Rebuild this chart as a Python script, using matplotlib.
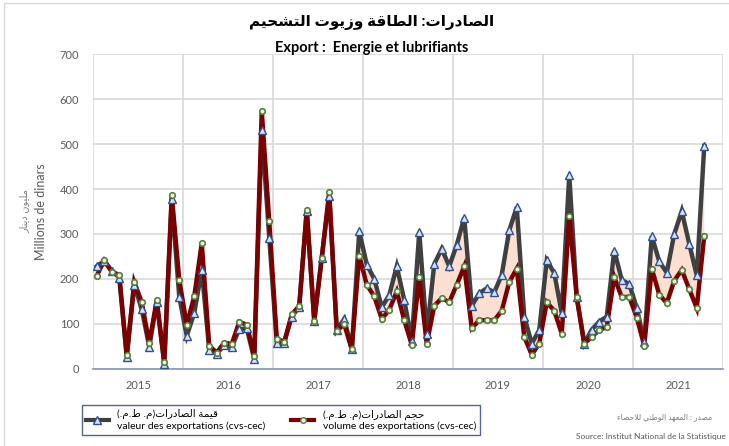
import numpy as np
import matplotlib
matplotlib.use("Agg")
import matplotlib.pyplot as plt
from matplotlib.lines import Line2D
from matplotlib.patches import Rectangle

# monthly data Jan 2015 - Oct 2021
valeur = [228, 240, 218, 203, 26, 187, 132, 49, 148, 11, 377, 160,
          73, 124, 220, 42, 33, 53, 48, 88, 90, 21, 532, 292,
          58, 58, 116, 138, 351, 107, 247, 385, 86, 111, 43, 306,
          232, 200, 137, 164, 228, 153, 62, 305, 78, 233, 267, 228,
          276, 336, 140, 168, 179, 170, 209, 308, 360, 116, 56, 86,
          241, 213, 124, 431, 159, 56, 87, 105, 116, 263, 198, 188,
          136, 59, 295, 239, 214, 300, 351, 278, 208, 496]
volume = [207, 241, 216, 209, 30, 193, 148, 57, 153, 15, 387, 198,
          98, 161, 280, 51, 36, 58, 55, 104, 98, 28, 574, 328,
          67, 60, 121, 140, 353, 107, 247, 394, 84, 99, 43, 252,
          187, 161, 111, 131, 172, 108, 53, 204, 55, 140, 157, 148,
          187, 228, 90, 108, 108, 108, 129, 193, 223, 71, 31, 56,
          148, 129, 78, 339, 159, 56, 71, 86, 93, 204, 159, 160,
          114, 51, 223, 165, 146, 196, 220, 177, 135, 296]
years = ["2015", "2016", "2017", "2018", "2019", "2020", "2021"]

# minimal arabic shaping (presentation forms + visual order)
AR_FORMS = {
    'ء': (0xFE80, 0), 'ا': (0xFE8D, 1), 'ة': (0xFE93, 1), 'ت': (0xFE95, 2),
    'ج': (0xFE9D, 2), 'ح': (0xFEA1, 2), 'د': (0xFEA9, 1), 'ر': (0xFEAD, 1),
    'ز': (0xFEAF, 1), 'ش': (0xFEB5, 2), 'ص': (0xFEB9, 2), 'ط': (0xFEC1, 2),
    'ع': (0xFEC9, 2), 'ق': (0xFED5, 2), 'ل': (0xFEDD, 2), 'م': (0xFEE1, 2),
    'ن': (0xFEE5, 2), 'ه': (0xFEE9, 2), 'و': (0xFEED, 1), 'ي': (0xFEF1, 2),
}


def ar(text):
    out = []
    i = 0
    n = len(text)
    while i < n:
        c = text[i]
        if c not in AR_FORMS:
            out.append(c)
            i += 1
            continue
        prev = text[i - 1] if i > 0 else ''
        joins_prev = prev in AR_FORMS and AR_FORMS[prev][1] == 2
        if c == 'ل' and i + 1 < n and text[i + 1] == 'ا':
            out.append(chr(0xFEFC if joins_prev else 0xFEFB))
            i += 2
            continue
        base, kind = AR_FORMS[c]
        nxt = text[i + 1] if i + 1 < n else ''
        joins_next = kind == 2 and nxt in AR_FORMS and AR_FORMS[nxt][1] > 0
        if kind == 0:
            form = base
        elif joins_prev and joins_next:
            form = base + 3
        elif joins_prev:
            form = base + 1
        elif joins_next:
            form = base + 2
        else:
            form = base
        out.append(chr(form))
        i += 1
    s = ''.join(out)[::-1]
    return s.translate(str.maketrans('()', ')('))


plt.rcParams['font.family'] = ['Lato', 'DejaVu Sans']

val = np.array(valeur, dtype=float)
vol = np.array(volume, dtype=float)
x = np.arange(len(val)) + 0.5

fig = plt.figure(figsize=(7.29, 4.46), dpi=100)
ax = fig.add_axes([93 / 729, 1 - 368.7 / 446, 630 / 729, 314.3 / 446])

ax.fill_between(x, vol, val, where=val >= vol, interpolate=True,
                color='#fbe0d2', lw=0, zorder=1)
ax.plot(x, val, color='#404040', lw=3.2, zorder=2, solid_joinstyle='miter')
ax.plot(x, vol, color='#7b0000', lw=3.2, zorder=3, solid_joinstyle='miter')
ax.plot(x, val, ls='none', marker='^', ms=6, mfc='#dae3f3', mec='#2f4f8f',
        mew=1, zorder=4)
ax.plot(x, vol, ls='none', marker='o', ms=4, mfc='#f2f2f2', mec='#548235',
        mew=1.2, zorder=5)

ax.set_xlim(0, 84)
ax.set_ylim(0, 700)
ax.set_yticks(range(0, 701, 100))
ax.set_xticks(range(0, 85, 12))
ax.set_xticklabels([])
ax.set_xticks(np.arange(6, 84, 12), minor=True)
ax.set_xticklabels(years, minor=True)
ax.tick_params(axis='x', which='both', length=0, pad=8, labelsize=8,
               labelcolor='#595959')
ax.tick_params(axis='y', length=0, pad=10, labelsize=8, labelcolor='#595959')
ax.grid(True, which='major', color='#d9d9d9', lw=1.2)
ax.set_axisbelow(True)
for s in ['top', 'right', 'left']:
    ax.spines[s].set_visible(False)
ax.spines['bottom'].set_color('#8497b0')
ax.spines['bottom'].set_linewidth(1.2)

fig.text(25 / 729, 1 - 211 / 446, ar('مليون دينار'), rotation=90,
         ha='center', va='center', fontsize=7, color='#7f7f7f')
fig.text(41 / 729, 1 - 212 / 446, 'Millions de dinars', rotation=90,
         ha='center', va='center', fontsize=9, color='#595959')

fig.text(372 / 729, 1 - 22 / 446, ar('الصادرات: الطاقة وزيوت التشحيم'),
         ha='center', va='center', fontsize=11, fontweight='bold')
fig.text(372 / 729, 1 - 48 / 446, 'Export :  Energie et lubrifiants',
         ha='center', va='center', fontsize=10.5, fontweight='bold')

h1 = Line2D([], [], color='#404040', lw=3, marker='^', ms=6,
            mfc='#dae3f3', mec='#2f4f8f')
h2 = Line2D([], [], color='#7b0000', lw=3, marker='o', ms=4,
            mfc='#f2f2f2', mec='#548235')
lab1 = ar('قيمة الصادرات(م. ط.م.)') + '\nvaleur des exportations (cvs-cec)'
lab2 = ar('حجم الصادرات(م. ط.م.)') + '\nvolume des exportations (cvs-cec)'
leg = fig.legend([h1, h2], [lab1, lab2], ncol=2, loc='center',
                 bbox_to_anchor=(281 / 729, 1 - 420 / 446), fontsize=7.5,
                 frameon=True, fancybox=False, handlelength=2.2,
                 columnspacing=2.5, borderpad=0.4, handletextpad=0.8)
leg.get_frame().set_edgecolor('#2f3f6f')
leg.get_frame().set_linewidth(1)

fig.text(712 / 729, 1 - 417 / 446, ar('مصدر : المعهد الوطني للاحصاء'),
         ha='right', va='center', fontsize=5.5, color='#7f7f7f')
fig.text(726 / 729, 1 - 436 / 446, 'Source: Institut National de la Statistique',
         ha='right', va='center', fontsize=6, color='#595959')

fig.patches.append(Rectangle((4 / 729, -0.01), 1, 1 - 3 / 446 + 0.01,
                             transform=fig.transFigure, fill=False,
                             edgecolor='#d9d9d9', lw=1))

fig.savefig('out.png', dpi=100)
